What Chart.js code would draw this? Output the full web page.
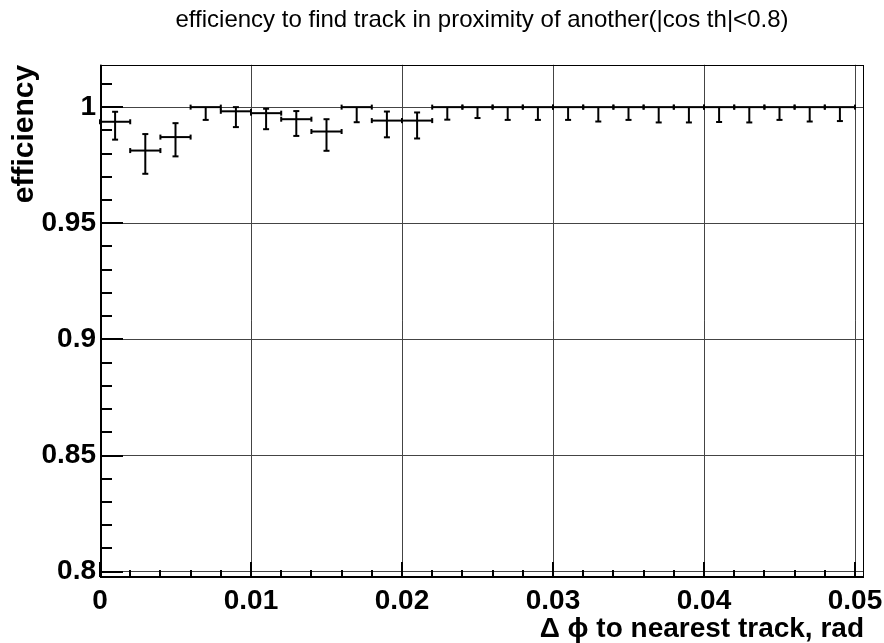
<!DOCTYPE html>
<html><head><meta charset="utf-8">
<script src="https://cdn.jsdelivr.net/npm/chart.js@4"></script>
<style>html,body{margin:0;padding:0;background:#fff;} #wrap{width:884px;height:643px;position:relative;}</style>
</head><body><div id="wrap"><canvas id="c" width="884" height="643"></canvas></div>
<script>
// ---- data ----
const binCenters = [0.001,0.003,0.005,0.007,0.009,0.011,0.013,0.015,0.017,0.019,0.021,0.023,0.025,
                    0.027,0.029,0.031,0.033,0.035,0.037,0.039,0.041,0.043,0.045,0.047,0.049];
const binHalfWidth = 0.001;
const efficiency = [0.9937,0.9813,0.9871,1,0.9982,0.9974,0.9948,0.9895,1,0.9942,0.9942,1,1,
                    1,1,1,1,1,1,1,1,1,1,1,1];
const errLow  = [0.0077,0.0100,0.0083,0.0055,0.0068,0.0069,0.0072,0.0083,0.0065,0.0072,0.0077,0.0054,0.0047,
                 0.0055,0.0055,0.0055,0.0062,0.0055,0.0066,0.0066,0.0064,0.0066,0.0055,0.0062,0.0060];
const errHigh = [0.0043,0.0071,0.0060,0,0.0018,0.0019,0.0035,0.0053,0,0.0039,0.0035,0,0,
                 0,0,0,0,0,0,0,0,0,0,0,0];
const xTickValues = [0,0.01,0.02,0.03,0.04,0.05];
const xTickLabels = ['0','0.01','0.02','0.03','0.04','0.05'];
const yTickValues = [0.8,0.85,0.9,0.95,1];
const yTickLabels = ['0.8','0.85','0.9','0.95','1'];
const xMinorStep = 0.002;
const yMinorStep = 0.01;
const titleText = 'efficiency to find track in proximity of another(|cos th|<0.8)';
const xTitle = '\u0394 \u03D5 to nearest track, rad';
const yTitle = 'efficiency';

const FONT = '"Liberation Sans", Arial, Helvetica, sans-serif';

const points = binCenters.map((x,i)=>({x:x, y:efficiency[i], yLo:efficiency[i]-errLow[i], yHi:efficiency[i]+errHigh[i],
                                       xLo:x-binHalfWidth, xHi:x+binHalfWidth}));

const errorBars = {
  id:'errorBars',
  afterDatasetsDraw(chart){
    const {ctx, scales:{x, y}} = chart;
    ctx.save();
    ctx.strokeStyle = '#000'; ctx.lineWidth = 2; ctx.lineCap = 'butt';
    const capV = 3, capH = 2.5;
    const seg = (a,b,c,d)=>{ctx.beginPath(); ctx.moveTo(a,b); ctx.lineTo(c,d); ctx.stroke();};
    chart.data.datasets[0].data.forEach(p=>{
      const px = x.getPixelForValue(p.x), py = y.getPixelForValue(p.y);
      const x0 = x.getPixelForValue(p.xLo), x1 = x.getPixelForValue(p.xHi);
      const yt = y.getPixelForValue(p.yHi), yb = y.getPixelForValue(p.yLo);
      seg(x0,py,x1,py);
      seg(x0,py-capH,x0,py+capH); seg(x1,py-capH,x1,py+capH);
      seg(px,yt,px,yb);
      seg(px-capV,yb,px+capV,yb);
      if (yt < py - 0.5) seg(px-capV,yt,px+capV,yt);
    });
    ctx.restore();
  }
};

const frameAndTicks = {
  id:'frameAndTicks',
  afterDraw(chart){
    const {ctx, chartArea:a, scales:{x, y}} = chart;
    ctx.save();
    ctx.strokeStyle = '#000';
    ctx.lineWidth = 1;
    ctx.strokeRect(Math.round(a.left)+0.5, Math.round(a.top)+0.5, Math.round(a.right-a.left)-1, Math.round(a.bottom-a.top)-1);
    ctx.lineWidth = 2;
    ctx.beginPath(); ctx.moveTo(a.left+1, a.top); ctx.lineTo(a.left+1, a.bottom); ctx.lineTo(a.right, a.bottom); ctx.stroke();
    for (let i=0; ; i++){
      const v = +(yTickValues[0] + i*yMinorStep).toFixed(4);
      if (v > y.max) break;
      const major = yTickValues.some(t=>Math.abs(t-v)<1e-9);
      const py = Math.round(y.getPixelForValue(v));
      ctx.beginPath(); ctx.moveTo(a.left, py); ctx.lineTo(a.left + (major?23:12), py); ctx.stroke();
    }
    for (let i=0; ; i++){
      const v = +(xTickValues[0] + i*xMinorStep).toFixed(4);
      if (v > x.max) break;
      const major = xTickValues.some(t=>Math.abs(t-v)<1e-9);
      const px = Math.round(x.getPixelForValue(v));
      ctx.beginPath(); ctx.moveTo(px, a.bottom); ctx.lineTo(px, a.bottom - (major?15:7)); ctx.stroke();
    }
    ctx.restore();
  }
};

new Chart(document.getElementById('c'), {
  type:'scatter',
  data:{datasets:[{data:points, pointRadius:0, showLine:false, borderColor:'#000'}]},
  options:{
    responsive:false, animation:false,
    layout:{padding:{left:0,right:20,top:0,bottom:0}},
    plugins:{
      legend:{display:false}, tooltip:{enabled:false},
      title:{display:true, text:titleText, fullSize:false, color:'#000',
             font:{family:FONT, size:24, weight:'normal'}, padding:{top:6, bottom:30}}
    },
    scales:{
      x:{type:'linear', min:0, max:0.050596,
         afterBuildTicks(s){ s.ticks = xTickValues.map(v=>({value:v})); },
         afterFit(s){ s.height = 66; s.paddingLeft = 0; s.paddingRight = 0; },
         grid:{color:'#444', lineWidth:1, drawTicks:false},
         border:{display:false},
         ticks:{color:'#000', padding:7, maxRotation:0, autoSkip:false,
                font:{family:FONT, size:28, weight:'bold'},
                callback:(v,i)=>xTickLabels[i]},
         title:{display:true, text:xTitle, align:'end', color:'#000',
                font:{family:FONT, size:28, weight:'bold'}, padding:{top:0,bottom:-3}}
      },
      y:{type:'linear', min:0.79772, max:1.01822,
         afterBuildTicks(s){ s.ticks = yTickValues.map(v=>({value:v})); },
         afterFit(s){ s.width = 100; s.paddingTop = 0; s.paddingBottom = 0; },
         grid:{color:'#444', lineWidth:1, drawTicks:false},
         border:{display:false},
         ticks:{color:'#000', padding:4, autoSkip:false,
                font:{family:FONT, size:28, weight:'bold'},
                callback:(v,i)=>yTickLabels[i]},
         title:{display:true, text:yTitle, align:'end', color:'#000',
                font:{family:FONT, size:30, weight:'bold'}, padding:{top:7,bottom:0}}
      }
    }
  },
  plugins:[errorBars, frameAndTicks]
});
</script></body></html>
